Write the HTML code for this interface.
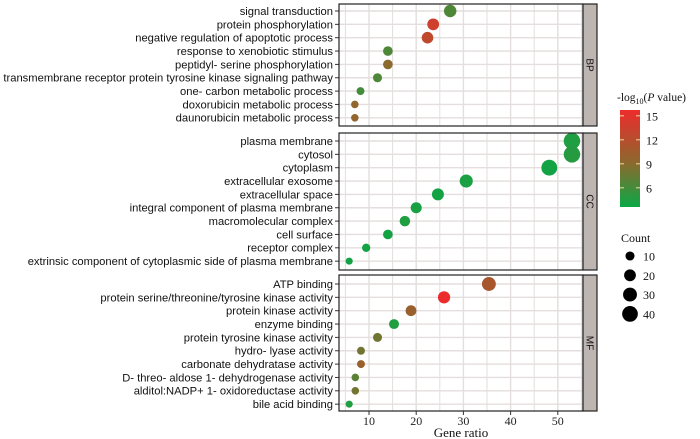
<!DOCTYPE html>
<html><head><meta charset="utf-8"><style>
body{margin:0;background:#fff;}
svg{display:block;font-family:"Liberation Sans",Arial,sans-serif;}
.lab{font-size:11.2px;fill:#111;}
.serif{font-family:"Liberation Serif",serif;}
</style></head><body>
<svg id="chart" width="700" height="439" viewBox="0 0 700 439"></svg>
<script>
const bpTerms=["signal transduction","protein phosphorylation","negative regulation of apoptotic process","response to xenobiotic stimulus","peptidyl- serine phosphorylation","transmembrane receptor protein tyrosine kinase signaling pathway","one- carbon metabolic process","doxorubicin metabolic process","daunorubicin metabolic process"];
const bpRatio=[27.2,23.6,22.4,14,14,11.8,8.2,7,7];
const bpCount=[23,20,19,12,12,10,7,6,6];
const bpLogP=[6.5,13.5,12.5,6.5,9,6.5,6,9.5,9.5];
const ccTerms=["plasma membrane","cytosol","cytoplasm","extracellular exosome","extracellular space","integral component of plasma membrane","macromolecular complex","cell surface","receptor complex","extrinsic component of cytoplasmic side of plasma membrane"];
const ccRatio=[53,53,48.2,30.6,24.6,20,17.6,14,9.4,5.8];
const ccCount=[45,45,41,26,21,17,15,12,8,5];
const ccLogP=[4.5,4.8,4,4.3,4,4.2,4.5,4,4,4];
const mfTerms=["ATP binding","protein serine/threonine/tyrosine kinase activity","protein kinase activity","enzyme binding","protein tyrosine kinase activity","hydro- lyase activity","carbonate dehydratase activity","D- threo- aldose 1- dehydrogenase activity","alditol:NADP+ 1- oxidoreductase activity","bile acid binding"];
const mfRatio=[35.4,25.9,18.9,15.3,11.8,8.3,8.3,7.1,7.1,5.8];
const mfCount=[30,22,16,13,10,7,7,6,6,5];
const mfLogP=[11,15.5,10,4.5,8,8,10,7,8,4.5];
const xTicks=[10,20,30,40,50];
const colorTicks=[6,9,12,15];
const countLegend=[10,20,30,40];

const NS="http://www.w3.org/2000/svg";
const svg=document.getElementById('chart');
function mk(tag,at,parent){const e=document.createElementNS(NS,tag);for(const k in at)e.setAttribute(k,at[k]);(parent||svg).appendChild(e);return e;}
const X0=339,X1=583;
const xs=v=>321.8+v*4.72;
const rs=c=>1.2+Math.sqrt(c)*1.05;
function lerp(a,b,t){return a.map((v,i)=>Math.round(v+(b[i]-v)*t));}
function col(p){const lo=[10,168,70],mid=[138,106,46],hi=[236,44,44];
 let c; if(p<=9){c=lerp(lo,mid,Math.max(0,(p-3.6)/5.4));}else{c=lerp(mid,hi,Math.min(1,(p-9)/6.5));}
 return `rgb(${c[0]},${c[1]},${c[2]})`;}
const panels=[
 {name:"BP",top:4,bot:126,y0:11,terms:bpTerms,ratio:bpRatio,count:bpCount,lp:bpLogP},
 {name:"CC",top:133,bot:270,y0:141,terms:ccTerms,ratio:ccRatio,count:ccCount,lp:ccLogP},
 {name:"MF",top:275,bot:411,y0:284,terms:mfTerms,ratio:mfRatio,count:mfCount,lp:mfLogP}];
const step=13.35;
panels.forEach(P=>{
 const g=mk('g',{});
 
 
 mk('rect',{x:X0,y:P.top,width:X1-X0,height:P.bot-P.top,fill:'#fff'},g);
 for(let v=5;v<=55;v+=5){const x=xs(v);if(x<X0||x>X1)continue;
  mk('line',{x1:x,x2:x,y1:P.top,y2:P.bot,stroke:'#e4dede','stroke-width':v%10?1:1.4},g);}
 P.terms.forEach((t,i)=>{const y=P.y0+i*step;
  mk('line',{x1:X0,x2:X1,y1:y,y2:y,stroke:'#e4dede','stroke-width':1.4},g);
  mk('line',{x1:X0-4,x2:X0,y1:y,y2:y,stroke:'#333','stroke-width':1},g);
  const tx=mk('text',{x:X0-6,y:y+3.9,'text-anchor':'end',class:'lab'},g);
  
  
  tx.textContent=t;});
 P.terms.forEach((t,i)=>{const y=P.y0+i*step;
  const c=mk('circle',{cx:xs(P.ratio[i]),cy:y,r:rs(P.count[i]),fill:col(P.lp[i])},g);
  
  });
 mk('rect',{x:X0,y:P.top,width:X1-X0,height:P.bot-P.top,fill:'none',stroke:'#222','stroke-width':1.2},g);
 const s=mk('rect',{x:X1,y:P.top,width:14,height:P.bot-P.top,fill:'#bdb5b1',stroke:'#222','stroke-width':1.2},g);
 
 
 const cy=(P.top+P.bot)/2;
 const st=mk('text',{x:X1+7,y:cy,'font-size':'10px','text-anchor':'middle',transform:`rotate(90 ${X1+7} ${cy})`,dy:'3.5',fill:'#111'},g);
 st.textContent=P.name;
});
xTicks.forEach(v=>{const x=xs(v);
 mk('line',{x1:x,x2:x,y1:411,y2:415,stroke:'#333'});
 const t=mk('text',{x:x,y:425,'text-anchor':'middle','font-size':'12px',class:'serif',fill:'#222'});
 
 
 t.textContent=v;});
const xt=mk('text',{x:461,y:437,'text-anchor':'middle','font-size':'13px',class:'serif',fill:'#111'});


xt.textContent='Gene ratio';
const defs=mk('defs',{});
const lg=mk('linearGradient',{id:'cg',x1:0,y1:1,x2:0,y2:0},defs);
[3.6,5,7,9,11,13,15.7].forEach(p=>mk('stop',{offset:(p-3.6)/12.1,'stop-color':col(p)},lg));
const ct=mk('text',{x:617,y:101,'font-size':'11.5px',class:'serif',fill:'#111'});


ct.innerHTML='-log<tspan font-size="8" dy="3">10</tspan><tspan dy="-3">(</tspan><tspan font-style="italic">P</tspan> value)';
const cb=mk('rect',{x:620,y:110,width:20,height:97,fill:'url(#cg)'});


const cyv=p=>207-(p-3.6)*8;
colorTicks.forEach(p=>{const y=cyv(p);
 mk('line',{x1:620,x2:624,y1:y,y2:y,stroke:'#f3d9a0'});mk('line',{x1:636,x2:640,y1:y,y2:y,stroke:'#f3d9a0'});
 const t=mk('text',{x:646,y:y+4.5,'font-size':'12px',class:'serif',fill:'#111'});t.textContent=p;});
const cnt=mk('text',{x:621,y:242,'font-size':'12px',class:'serif',fill:'#111'});


cnt.textContent='Count';
countLegend.forEach((c,i)=>{const y=256+i*19.3;
 const d=mk('circle',{cx:630,cy:y,r:rs(c),fill:'#000'});
 
 
 const t=mk('text',{x:643,y:y+4.5,'font-size':'12px',class:'serif',fill:'#111'});t.textContent=c;});
</script>
</body></html>
